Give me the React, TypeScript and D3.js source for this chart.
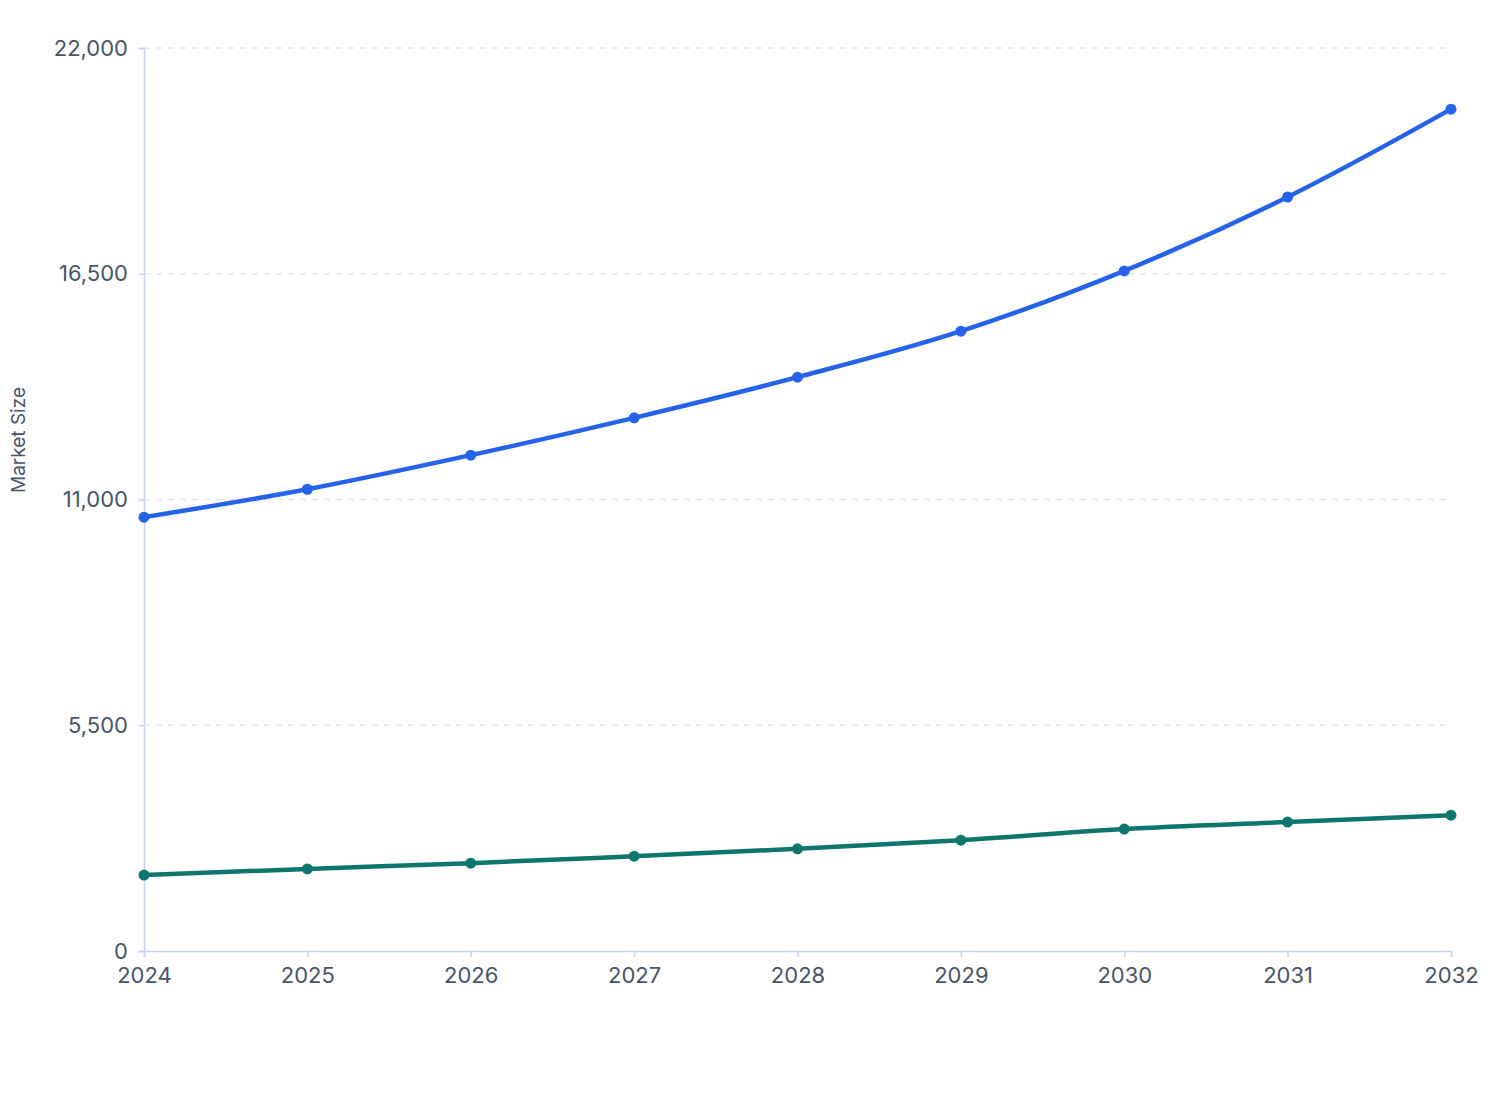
import React, { useRef, useEffect } from "react";
import * as d3 from "d3";

const years = [2024, 2025, 2026, 2027, 2028, 2029, 2030, 2031, 2032];
const seriesA = [10570, 11250, 12080, 12990, 13980, 15100, 16570, 18370, 20510];
const seriesB = [1850, 2000, 2140, 2310, 2490, 2700, 2970, 3140, 3310];
const yTicks = [0, 5500, 11000, 16500, 22000];

const WIDTH = 1500;
const HEIGHT = 1100;
const margin = { top: 40, right: 57, bottom: 157, left: 136 };
const FONT = "Inter, 'DejaVu Sans', sans-serif";

export default function App() {
  const svgRef = useRef<SVGSVGElement>(null);

  useEffect(() => {
    if (!svgRef.current) return;
    const svg = d3.select(svgRef.current);
    svg.selectAll("*").remove();

    const innerW = WIDTH - margin.left - margin.right;
    const innerH = HEIGHT - margin.top - margin.bottom;

    const x = d3
      .scaleLinear()
      .domain([years[0], years[years.length - 1]])
      .range([0, innerW]);
    const y = d3.scaleLinear().domain([0, 22000]).range([innerH, 0]);

    const g = svg
      .append("g")
      .attr("transform", `translate(${margin.left},${margin.top})`);

    // dashed grid
    g.append("g")
      .selectAll("line")
      .data(yTicks.filter((t) => t > 0))
      .join("line")
      .attr("x1", 0)
      .attr("x2", innerW - 5)
      .attr("y1", (d) => y(d))
      .attr("y2", (d) => y(d))
      .attr("stroke", "#e5e7eb")
      .attr("stroke-width", 1.5)
      .attr("stroke-dasharray", "6 6");

    // y axis
    const yAxis = g
      .append("g")
      .call(
        d3
          .axisLeft(y)
          .tickValues(yTicks)
          .tickSize(6)
          .tickPadding(10)
          .tickFormat((d) => d3.format(",")(d as number))
      );
    // x axis
    const xAxis = g
      .append("g")
      .attr("transform", `translate(0,${innerH})`)
      .call(
        d3
          .axisBottom(x)
          .tickValues(years)
          .tickSize(6)
          .tickPadding(10)
          .tickFormat((d) => String(d))
      );

    [yAxis, xAxis].forEach((ax) => {
      ax.select(".domain").attr("stroke", "#c7d2f7").attr("stroke-width", 1.5);
      ax.selectAll(".tick line").attr("stroke", "#c7d2f7").attr("stroke-width", 1.5);
      ax.selectAll(".tick text")
        .attr("fill", "#475569")
        .attr("font-size", 22)
        .attr("font-family", FONT);
    });

    // axis title
    g.append("text")
      .attr("transform", `translate(${-119},${392}) rotate(-90)`)
      .attr("text-anchor", "middle")
      .attr("fill", "#475569")
      .attr("font-size", 19)
      .attr("font-family", FONT)
      .text("Market Size");

    const line = d3
      .line<number>()
      .x((_, i) => x(years[i]))
      .y((d) => y(d))
      .curve(d3.curveMonotoneX);

    const series = [
      { values: seriesA, color: "#2563eb" },
      { values: seriesB, color: "#0f766e" },
    ];

    series.forEach((s) => {
      g.append("path")
        .datum(s.values)
        .attr("fill", "none")
        .attr("stroke", s.color)
        .attr("stroke-width", 4.5)
        .attr("stroke-linejoin", "round")
        .attr("d", line);

      g.append("g")
        .selectAll("circle")
        .data(s.values)
        .join("circle")
        .attr("cx", (_, i) => x(years[i]))
        .attr("cy", (d) => y(d))
        .attr("r", 5.5)
        .attr("fill", s.color);
    });
  }, []);

  return <svg ref={svgRef} width={WIDTH} height={HEIGHT} style={{ display: "block" }}></svg>;
}
